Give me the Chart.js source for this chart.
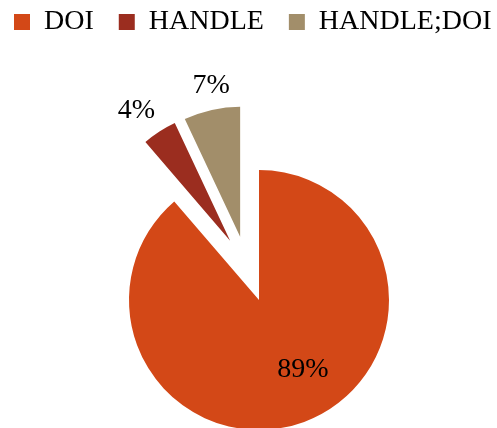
<!DOCTYPE html>
<html>
<head>
<meta charset="utf-8">
<title>Identifier type</title>
<script src="https://cdn.jsdelivr.net/npm/chart.js@4.4.1/dist/chart.umd.min.js"></script>
<style>
    html, body { margin: 0; padding: 0; background: #fff; }
    #frame { position: relative; width: 497px; height: 428px; overflow: hidden; }
    /* canvas is a bit bigger than the window so the pie sits low and the legend fits on one row */
    #holder { position: absolute; left: -11px; top: -17px; width: 540px; height: 571px; }
</style>
</head>
<body>
<div id="frame"><div id="holder"><canvas id="pieChart"></canvas></div></div>
<script>
const categories = ['DOI', 'HANDLE', 'HANDLE;DOI'];
const shares = [88.7, 4.3, 7.0];
const sliceColors = ['#D34817', '#9B2D1F', '#A28E6A'];

const serif = "'Liberation Serif', 'Times New Roman', serif";

// Pull slices out of the pie (keeps the radius, unlike the built-in offset)
const explodePlugin = {
    id: 'explode',
    afterDatasetUpdate(chart, args, opts) {
        args.meta.data.forEach((arc, i) => {
            const d = (opts.offsets || [])[i] || 0;
            if (!d) return;
            const tilt = ((opts.tilt || [])[i] || 0) * Math.PI / 180;
            const dir = (arc.startAngle + arc.endAngle) / 2 + tilt;
            arc.x += Math.cos(dir) * d;
            arc.y += Math.sin(dir) * d;
        });
    }
};

// Percent labels: big slice inside, small slices outside (measured from the pie centre)
const pieLabelsPlugin = {
    id: 'pieLabels',
    afterDatasetsDraw(chart, args, opts) {
        const ctx = chart.ctx;
        const area = chart.chartArea;
        const cx = (area.left + area.right) / 2;
        const cy = (area.top + area.bottom) / 2;
        const meta = chart.getDatasetMeta(0);
        const values = chart.data.datasets[0].data;
        const total = values.reduce((a, b) => a + b, 0);
        const offsets = chart.options.plugins.explode.offsets;
        ctx.save();
        ctx.font = `${opts.size}px ${serif}`;
        ctx.fillStyle = '#000';
        ctx.textAlign = 'center';
        ctx.textBaseline = 'middle';
        meta.data.forEach((arc, i) => {
            const pct = values[i] / total * 100;
            const text = Math.round(pct) + '%';
            let angle = (arc.startAngle + arc.endAngle) / 2;
            let dist;
            if (pct > 50) {
                angle += opts.insideShift * Math.PI / 180;
                dist = arc.outerRadius * opts.insideRatio;
            } else {
                // push the label box just clear of the slice
                const hw = ctx.measureText(text).width / 2 + 5;
                const hh = opts.size / 2;
                const reach = Math.abs(Math.cos(angle)) * hw + Math.abs(Math.sin(angle)) * hh;
                dist = arc.outerRadius + (offsets[i] || 0) + opts.outsideGap + reach;
            }
            ctx.fillText(text, cx + Math.cos(angle) * dist, cy + Math.sin(angle) * dist);
        });
        ctx.restore();
    }
};

document.addEventListener('DOMContentLoaded', () => {
    const ctx = document.getElementById('pieChart').getContext('2d');
    new Chart(ctx, {
        type: 'pie',
        data: {
            labels: categories,
            datasets: [{
                data: shares,
                backgroundColor: sliceColors,
                borderWidth: 0,
                radius: 130
            }]
        },
        options: {
            responsive: true,
            maintainAspectRatio: false,
            animation: false,
            events: [],
            radius: 130,
            plugins: {
                legend: {
                    position: 'top',
                    align: 'start',
                    labels: {
                        boxWidth: 16,
                        boxHeight: 16,
                        padding: 25,
                        color: '#000',
                        font: { family: serif, size: 28 }
                    }
                },
                tooltip: { enabled: false },
                explode: { offsets: [0, 66, 66], tilt: [0, 7, -4] },
                pieLabels: { size: 28, insideRatio: 0.63, insideShift: -12, outsideGap: 5 }
            }
        },
        plugins: [explodePlugin, pieLabelsPlugin]
    });
});
</script>
</body>
</html>
